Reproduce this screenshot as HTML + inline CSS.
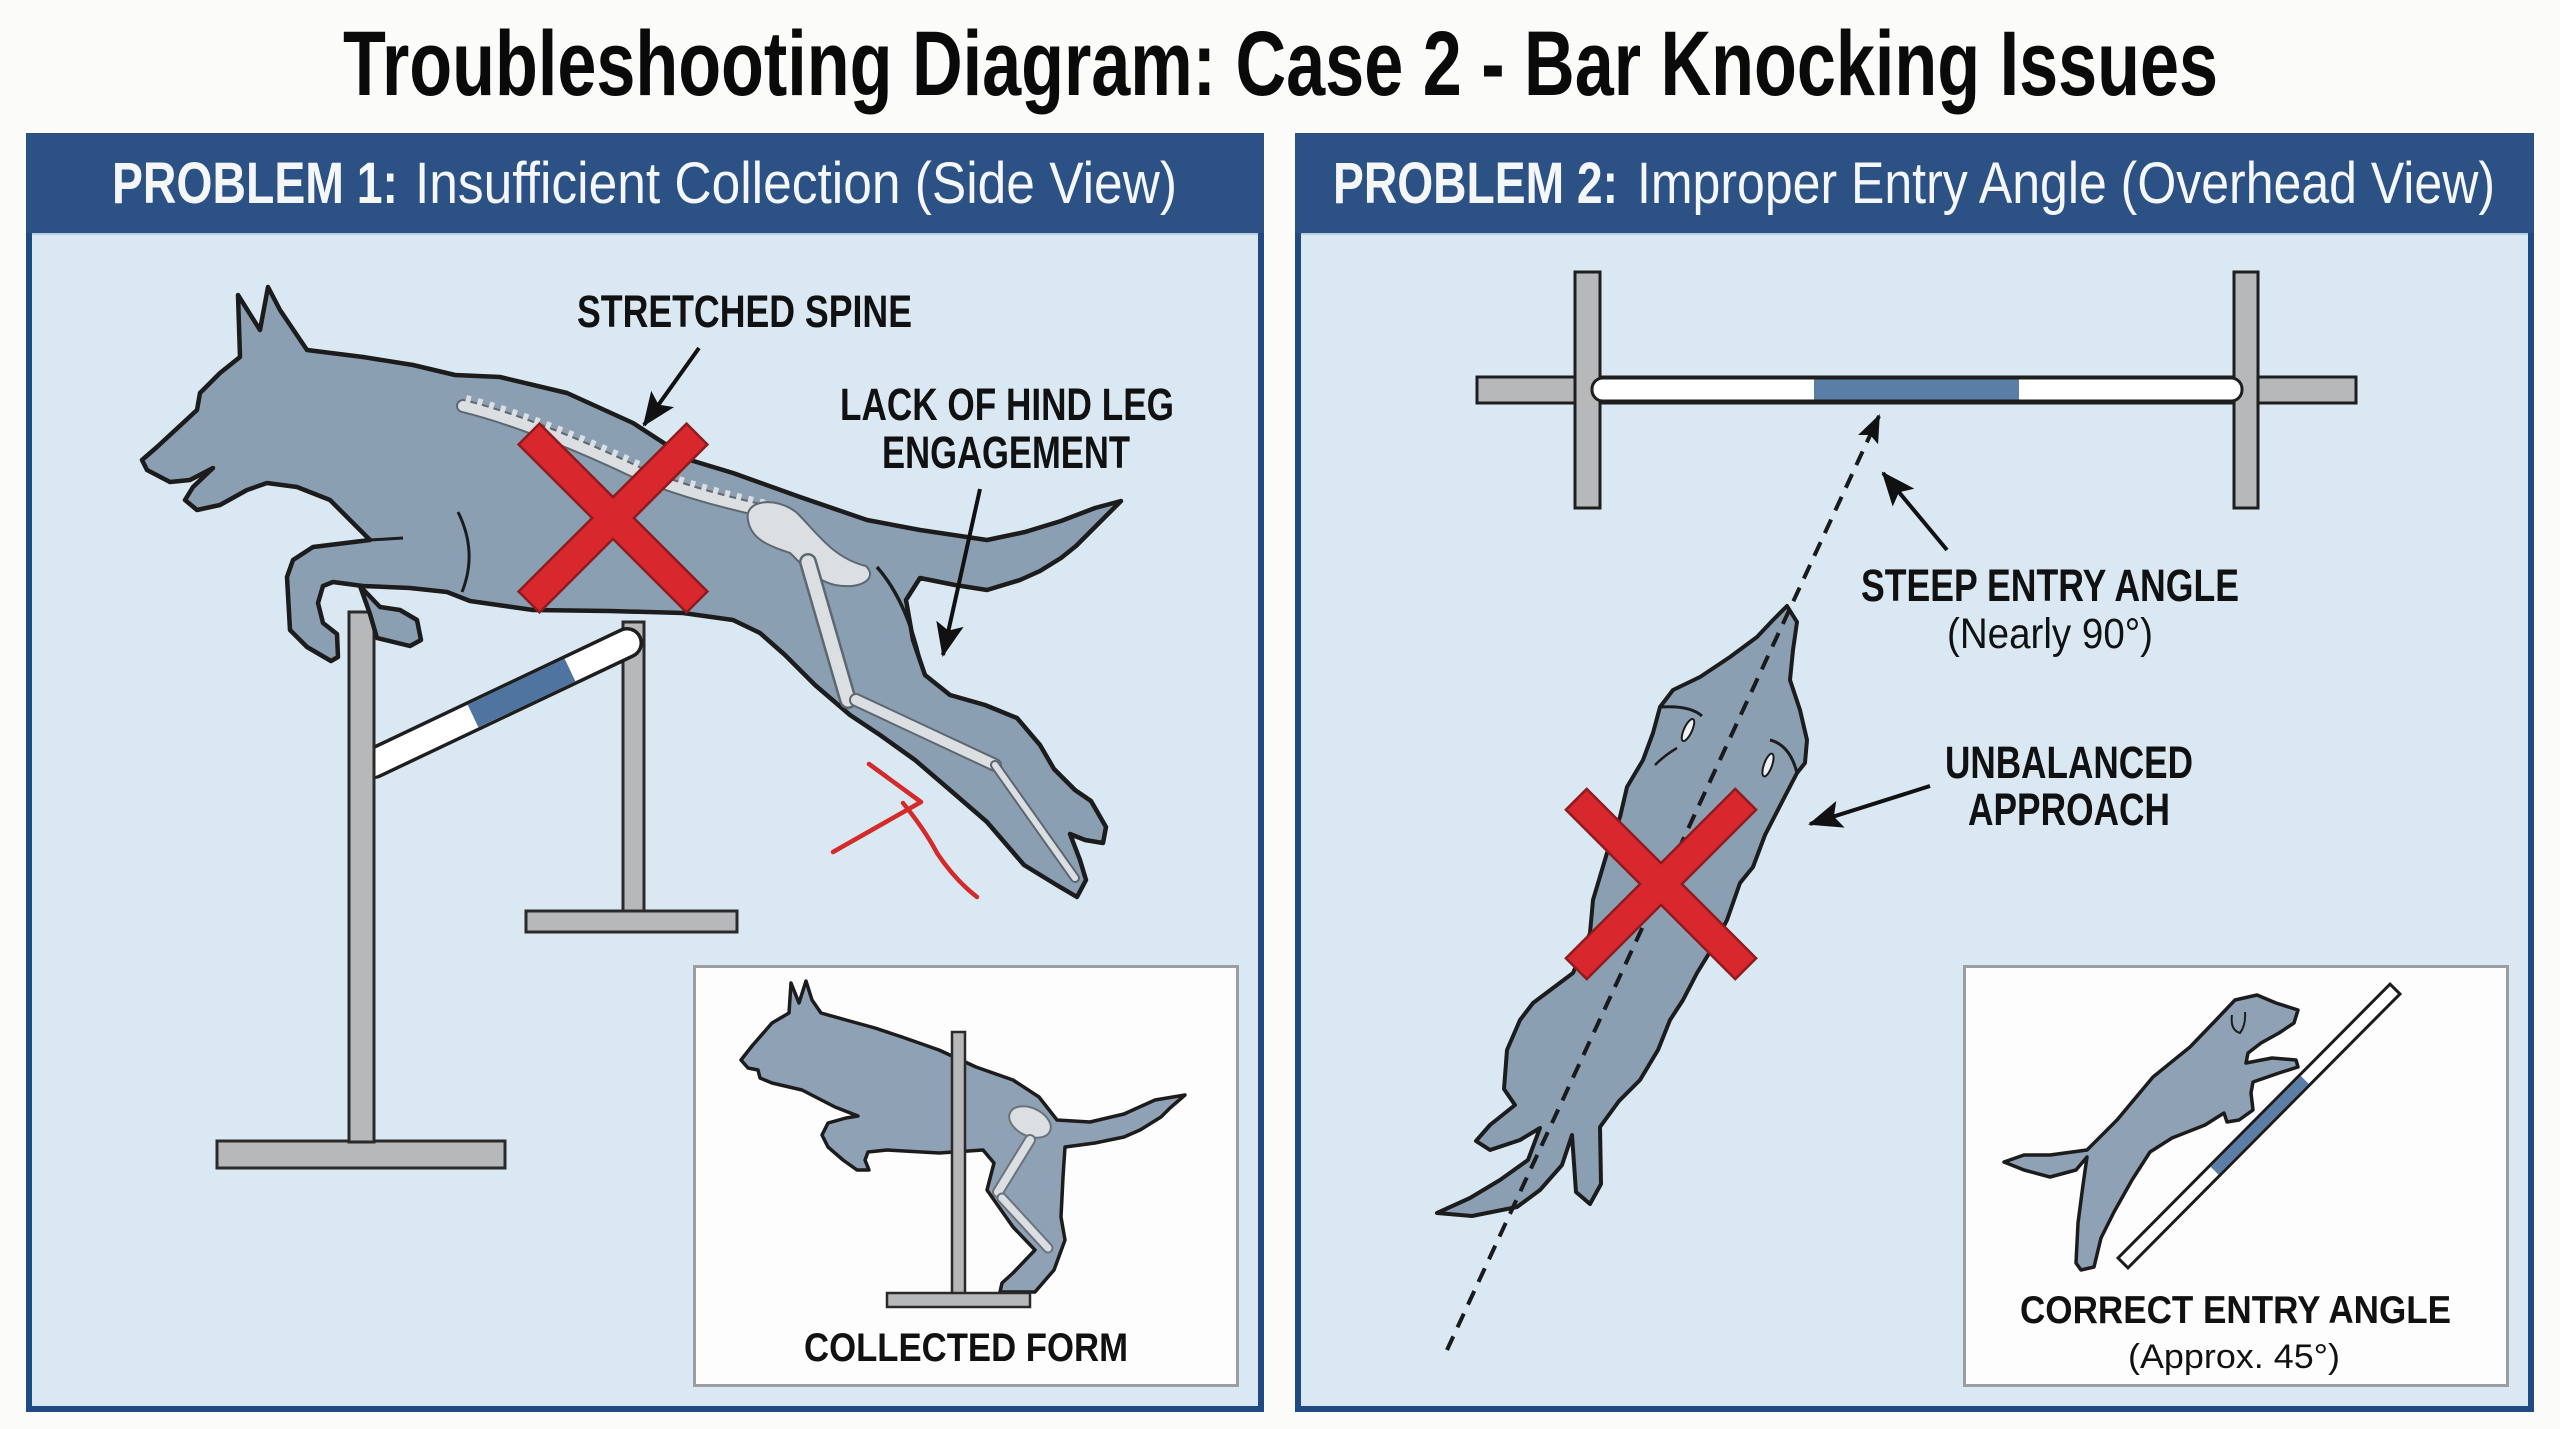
<!DOCTYPE html>
<html>
<head>
<meta charset="utf-8">
<style>
html,body{margin:0;padding:0;background:#fbfbf9;}
svg{display:block;}
text{font-family:"Liberation Sans",Arial,sans-serif;}
</style>
</head>
<body>
<svg width="2560" height="1429" viewBox="0 0 2560 1429" xmlns="http://www.w3.org/2000/svg">
<defs>
<marker id="ah" markerUnits="userSpaceOnUse" markerWidth="34" markerHeight="28" refX="32" refY="14" orient="auto" viewBox="0 0 34 28">
<path d="M0,0 L34,14 L0,28 L7,14 z" fill="#111"/>
</marker>
<marker id="ah2" markerUnits="userSpaceOnUse" markerWidth="28" markerHeight="22" refX="26" refY="11" orient="auto" viewBox="0 0 28 22">
<path d="M0,0 L28,11 L0,22 L5,11 z" fill="#111"/>
</marker>
</defs>

<rect width="2560" height="1429" fill="#fbfbf9"/>

<!-- Title -->
<text x="343" y="95" font-size="92" font-weight="700" fill="#0a0a0a" textLength="1875" lengthAdjust="spacingAndGlyphs">Troubleshooting Diagram: Case 2 - Bar Knocking Issues</text>

<!-- LEFT PANEL -->
<rect x="29" y="136" width="1232" height="1273" fill="#d9e8f2" stroke="#1f4a82" stroke-width="6"/>
<rect x="26" y="133" width="1238" height="100" fill="#2b5185"/>
<rect x="32" y="233" width="1226" height="2" fill="#b9cde0"/>
<text x="112" y="203" font-size="58" font-weight="700" fill="#f4f6f8" textLength="286" lengthAdjust="spacingAndGlyphs">PROBLEM 1:</text>
<text x="415" y="203" font-size="58" font-weight="400" fill="#f4f6f8" textLength="762" lengthAdjust="spacingAndGlyphs">Insufficient Collection (Side View)</text>

<!-- RIGHT PANEL -->
<rect x="1298" y="136" width="1233" height="1273" fill="#d9e8f2" stroke="#1f4a82" stroke-width="6"/>
<rect x="1295" y="133" width="1239" height="100" fill="#2b5185"/>
<rect x="1301" y="233" width="1227" height="2" fill="#b9cde0"/>
<text x="1333" y="203" font-size="58" font-weight="700" fill="#f4f6f8" textLength="285" lengthAdjust="spacingAndGlyphs">PROBLEM 2:</text>
<text x="1637" y="203" font-size="58" font-weight="400" fill="#f4f6f8" textLength="858" lengthAdjust="spacingAndGlyphs">Improper Entry Angle (Overhead View)</text>

<!-- ===== LEFT: hurdle ===== -->
<rect x="217" y="1141" width="288" height="27" fill="#b7b8ba" stroke="#2a2a2a" stroke-width="3"/>
<rect x="623" y="622" width="21" height="290" fill="#b7b8ba" stroke="#2a2a2a" stroke-width="3"/>
<rect x="526" y="911" width="211" height="21" fill="#b7b8ba" stroke="#2a2a2a" stroke-width="3"/>
<!-- bar -->
<line x1="374" y1="763" x2="627" y2="643" stroke="#1e1e1e" stroke-width="32" stroke-linecap="round"/>
<line x1="372" y1="764" x2="627" y2="643" stroke="#ffffff" stroke-width="25" stroke-linecap="round"/>
<line x1="473" y1="716" x2="570" y2="670" stroke="#4f74a0" stroke-width="25"/>
<rect x="349" y="612" width="25" height="530" fill="#b7b8ba" stroke="#2a2a2a" stroke-width="3"/>

<!-- main dog: hanging paw -->
<path d="M360,586 L380,607 L400,610 L417,620 L421,640 L410,646 L377,638 L370,614 Z" fill="#8b9fb2" stroke="#1c1c1c" stroke-width="4.5" stroke-linejoin="round"/>
<!-- main dog silhouette -->
<path d="M142,460 L157,447 L197,410 L200,393 L220,373 L240,357 L238,295 L260,330 L268,287 L280,310 L307,350 L363,357 L413,365 L455,375 L500,377 L567,393 L633,423 L690,460 L733,473 L800,497 L867,520 L920,530 L987,540 L1025,532 L1061,521 L1095,508 L1121,501 L1108,514 L1092,530 L1076,546 L1061,558 L1040,571 L1020,580 L987,590 L955,585 L920,578 L906,600 L913,640 L925,675 L950,695 L985,705 L1017,718 L1040,745 L1054,769 L1075,790 L1091,801 L1106,827 L1103,843 L1085,840 L1070,834 L1080,860 L1086,880 L1077,897 L1055,884 L1024,865 L987,822 L950,790 L915,760 L880,735 L850,715 L815,685 L785,655 L760,633 L733,620 L683,613 L610,611 L533,610 L470,601 L447,592 L410,588 L363,586 L333,582 L323,586 L318,603 L323,623 L337,634 L338,657 L331,661 L307,647 L290,630 L287,577 L293,560 L313,547 L370,540 L357,527 L330,500 L297,487 L267,483 L247,490 L220,505 L197,510 L185,500 L193,487 L213,468 L190,480 L170,482 L147,470 Z" fill="#8b9fb2" stroke="#1c1c1c" stroke-width="4.5" stroke-linejoin="round"/>
<!-- inner lines -->
<path d="M370,540 L403,538" stroke="#1c1c1c" stroke-width="3" fill="none"/>
<path d="M458,512 Q478,552 462,592" stroke="#1c1c1c" stroke-width="3" fill="none"/>
<path d="M877,567 Q906,600 920,660" stroke="#1c1c1c" stroke-width="3.5" fill="none"/>
<!-- skeleton -->
<path d="M463,406 C520,420 590,450 640,474 C690,494 730,503 768,512" stroke="#5d6770" stroke-width="14" fill="none" stroke-linecap="round"/>
<path d="M463,406 C520,420 590,450 640,474 C690,494 730,503 768,512" stroke="#dcdfe2" stroke-width="10" fill="none" stroke-linecap="round"/>
<path d="M466,399 C523,413 593,443 643,467 C693,487 733,496 770,505" stroke="#dcdfe2" stroke-width="8" fill="none" stroke-dasharray="5 7"/>
<path d="M748,520 C744,500 775,496 796,512 C815,530 832,558 866,566 C878,578 862,590 835,585 C813,580 800,562 790,553 C770,546 751,540 748,520 Z" fill="#dcdfe2" stroke="#5d6770" stroke-width="2"/>
<line x1="808" y1="562" x2="848" y2="700" stroke="#5d6770" stroke-width="18" stroke-linecap="round"/>
<line x1="808" y1="562" x2="848" y2="700" stroke="#dcdfe2" stroke-width="13" stroke-linecap="round"/>
<line x1="856" y1="700" x2="995" y2="765" stroke="#5d6770" stroke-width="14" stroke-linecap="round"/>
<line x1="856" y1="700" x2="995" y2="765" stroke="#dcdfe2" stroke-width="10" stroke-linecap="round"/>
<line x1="995" y1="765" x2="1075" y2="878" stroke="#5d6770" stroke-width="10" stroke-linecap="round"/>
<line x1="995" y1="765" x2="1075" y2="878" stroke="#dcdfe2" stroke-width="6" stroke-linecap="round"/>

<!-- left red X -->
<g transform="translate(613,518)">
<rect x="-120" y="-16" width="240" height="32" fill="#8e1b1e" transform="rotate(45)"/>
<rect x="-120" y="-16" width="240" height="32" fill="#8e1b1e" transform="rotate(-45)"/>
<rect x="-117.5" y="-13.5" width="235" height="27" fill="#d8282e" transform="rotate(45)"/>
<rect x="-117.5" y="-13.5" width="235" height="27" fill="#d8282e" transform="rotate(-45)"/>
</g>

<!-- red scribble -->
<path d="M869,764 L921,802 L833,852" stroke="#d42a2a" stroke-width="4.5" fill="none" stroke-linecap="round" stroke-linejoin="round"/>
<path d="M903,803 Q925,830 937,853 Q955,880 977,897" stroke="#d42a2a" stroke-width="4.5" fill="none" stroke-linecap="round"/>

<!-- left arrows -->
<line x1="699" y1="348" x2="644" y2="425" stroke="#111" stroke-width="4" marker-end="url(#ah)"/>
<line x1="980" y1="489" x2="943" y2="655" stroke="#111" stroke-width="4" marker-end="url(#ah)"/>

<!-- left labels -->
<text x="577" y="327" font-size="45" font-weight="700" fill="#111" textLength="335" lengthAdjust="spacingAndGlyphs">STRETCHED SPINE</text>
<text x="840" y="420" font-size="45" font-weight="700" fill="#111" textLength="334" lengthAdjust="spacingAndGlyphs">LACK OF HIND LEG</text>
<text x="882" y="468" font-size="45" font-weight="700" fill="#111" textLength="248" lengthAdjust="spacingAndGlyphs">ENGAGEMENT</text>

<!-- left inset -->
<rect x="694.5" y="966.5" width="543" height="419" fill="#fdfdfd" stroke="#9a9ea3" stroke-width="3"/>
<path d="M741,1060 L752,1046 L772,1023 L789,1013 L791,983 L799,1003 L806,981 L812,1000 L821,1013 L846,1020 L875,1028 L902,1037 L939,1050 L976,1067 L1013,1080 L1039,1097 L1057,1120 L1090,1122 L1124,1114 L1155,1100 L1185,1095 L1170,1108 L1161,1117 L1140,1130 L1124,1137 L1095,1143 L1065,1147 L1063,1177 L1061,1217 L1065,1240 L1054,1270 L1035,1292 L1000,1292 L1002,1283 L1013,1273 L1035,1250 L1013,1227 L987,1190 L994,1163 L983,1150 L939,1153 L887,1150 L868,1152 L865,1160 L869,1170 L857,1170 L843,1160 L828,1147 L822,1135 L828,1123 L846,1118 L858,1116 L835,1107 L802,1090 L772,1083 L760,1078 L758,1070 L748,1068 Z" fill="#8fa2b5" stroke="#1c1c1c" stroke-width="3.5" stroke-linejoin="round"/>
<ellipse cx="1030" cy="1122" rx="22" ry="14" fill="#dcdfe2" stroke="#6a737b" stroke-width="2" transform="rotate(25 1030 1122)"/>
<line x1="1030" y1="1140" x2="998" y2="1192" stroke="#6a737b" stroke-width="12" stroke-linecap="round"/>
<line x1="1030" y1="1140" x2="998" y2="1192" stroke="#dcdfe2" stroke-width="8" stroke-linecap="round"/>
<line x1="1002" y1="1198" x2="1048" y2="1248" stroke="#6a737b" stroke-width="11" stroke-linecap="round"/>
<line x1="1002" y1="1198" x2="1048" y2="1248" stroke="#dcdfe2" stroke-width="7" stroke-linecap="round"/>
<rect x="952" y="1032" width="13" height="262" fill="#b7b8ba" stroke="#2a2a2a" stroke-width="2.5"/>
<rect x="887" y="1293" width="143" height="14" fill="#b7b8ba" stroke="#2a2a2a" stroke-width="2.5"/>
<text x="804" y="1361" font-size="40" font-weight="700" fill="#111" textLength="324" lengthAdjust="spacingAndGlyphs">COLLECTED FORM</text>

<!-- ===== RIGHT: overhead jump ===== -->
<rect x="1477" y="377" width="879" height="26" fill="#b7b8ba" stroke="#1e1e1e" stroke-width="3"/>
<rect x="1575" y="272" width="25" height="236" fill="#b7b8ba" stroke="#1e1e1e" stroke-width="3"/>
<rect x="2234" y="272" width="24" height="236" fill="#b7b8ba" stroke="#1e1e1e" stroke-width="3"/>
<rect x="1592" y="378" width="650" height="23" rx="11" fill="#ffffff" stroke="#1e1e1e" stroke-width="3"/>
<rect x="1814" y="379.5" width="205" height="20" fill="#5a7ea6"/>

<!-- overhead dog -->
<path d="M1787,606 L1797,622 L1793,650 L1790,680 L1800,710 L1807,740 L1805,763 L1797,773 L1783,800 L1765,835 L1753,867 L1740,883 L1727,920 L1713,947 L1697,973 L1683,1000 L1670,1020 L1658,1050 L1640,1080 L1619,1101 L1600,1127 L1601,1184 L1590,1204 L1576,1192 L1572,1135 L1562,1165 L1540,1190 L1517,1207 L1472,1216 L1437,1213 L1470,1198 L1500,1180 L1528,1160 L1540,1128 L1520,1140 L1490,1150 L1476,1141 L1490,1125 L1515,1105 L1504,1089 L1507,1050 L1520,1020 L1533,1003 L1573,973 L1590,933 L1593,900 L1607,853 L1620,817 L1627,787 L1643,760 L1653,733 L1660,707 L1673,690 L1700,677 L1730,657 L1757,637 L1773,620 Z" fill="#8b9fb2" stroke="#1c1c1c" stroke-width="4" stroke-linejoin="round"/>
<path d="M1660,707 Q1690,705 1702,716" stroke="#1c1c1c" stroke-width="3" fill="none"/>
<ellipse cx="1688" cy="730" rx="4" ry="12" fill="#eef2f5" stroke="#1c1c1c" stroke-width="2" transform="rotate(25 1688 730)"/>
<path d="M1677,748 Q1665,755 1655,765" stroke="#1c1c1c" stroke-width="2.5" fill="none"/>
<ellipse cx="1768" cy="765" rx="4" ry="12" fill="#eef2f5" stroke="#1c1c1c" stroke-width="2" transform="rotate(20 1768 765)"/>
<path d="M1770,740 Q1790,745 1797,773" stroke="#1c1c1c" stroke-width="3" fill="none"/>

<!-- dashed approach line -->
<line x1="1447" y1="1350" x2="1879" y2="416" stroke="#1a1a1a" stroke-width="4" stroke-dasharray="15 10" marker-end="url(#ah2)"/>

<!-- right red X -->
<g transform="translate(1661,884)">
<rect x="-121" y="-16" width="242" height="32" fill="#8e1b1e" transform="rotate(45)"/>
<rect x="-121" y="-16" width="242" height="32" fill="#8e1b1e" transform="rotate(-45)"/>
<rect x="-118.5" y="-13.5" width="237" height="27" fill="#d8282e" transform="rotate(45)"/>
<rect x="-118.5" y="-13.5" width="237" height="27" fill="#d8282e" transform="rotate(-45)"/>
</g>

<!-- right arrows -->
<line x1="1947" y1="550" x2="1883" y2="473" stroke="#111" stroke-width="4" marker-end="url(#ah)"/>
<line x1="1930" y1="786" x2="1810" y2="824" stroke="#111" stroke-width="4" marker-end="url(#ah)"/>

<!-- right labels -->
<text x="1861" y="601" font-size="45" font-weight="700" fill="#111" textLength="378" lengthAdjust="spacingAndGlyphs">STEEP ENTRY ANGLE</text>
<text x="1947" y="648" font-size="43" font-weight="400" fill="#111" textLength="206" lengthAdjust="spacingAndGlyphs">(Nearly 90°)</text>
<text x="1945" y="778" font-size="45" font-weight="700" fill="#111" textLength="248" lengthAdjust="spacingAndGlyphs">UNBALANCED</text>
<text x="1968" y="825" font-size="45" font-weight="700" fill="#111" textLength="202" lengthAdjust="spacingAndGlyphs">APPROACH</text>

<!-- right inset -->
<rect x="1964.5" y="966.5" width="543" height="419" fill="#fdfdfd" stroke="#9a9ea3" stroke-width="3"/>
<path d="M2004,1162 L2024,1155 L2050,1155 L2087,1150 L2117,1120 L2153,1077 L2190,1047 L2216,1020 L2235,1000 L2257,995 L2276,1003 L2298,1010 L2294,1023 L2279,1033 L2261,1043 L2248,1053 L2246,1063 L2272,1058 L2296,1060 L2298,1067 L2279,1073 L2253,1082 L2251,1093 L2253,1110 L2239,1120 L2227,1122 L2224,1113 L2205,1125 L2172,1138 L2150,1152 L2132,1180 L2114,1212 L2101,1238 L2094,1267 L2081,1270 L2076,1263 L2078,1223 L2083,1185 L2087,1157 L2076,1170 L2050,1177 L2024,1170 Z" fill="#8fa2b5" stroke="#1c1c1c" stroke-width="3.5" stroke-linejoin="round"/>
<path d="M2232,1015 Q2230,1030 2240,1033 Q2246,1025 2245,1012" stroke="#1c1c1c" stroke-width="2" fill="none"/>
<g transform="translate(2259,1126) rotate(-45.2)">
<rect x="-193" y="-7" width="386" height="14" fill="#ffffff" stroke="#1c1c1c" stroke-width="3"/>
<rect x="-63" y="-5.5" width="128" height="11" fill="#5a7ea6"/>
</g>
<text x="2020" y="1323" font-size="39" font-weight="700" fill="#111" textLength="431" lengthAdjust="spacingAndGlyphs">CORRECT ENTRY ANGLE</text>
<text x="2128" y="1368" font-size="34" font-weight="400" fill="#111" textLength="212" lengthAdjust="spacingAndGlyphs">(Approx. 45°)</text>

</svg>
</body>
</html>
